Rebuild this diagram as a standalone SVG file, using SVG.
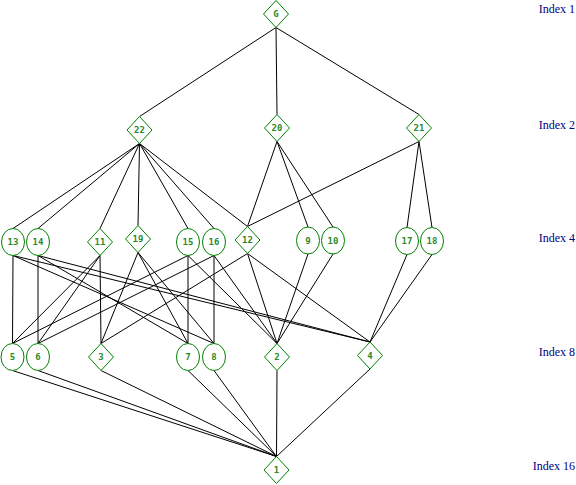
<svg xmlns="http://www.w3.org/2000/svg" width="576" height="485" viewBox="0 0 576 485">
<style>
.n{fill:#fff;stroke:#008000;stroke-width:1}
.t{font-family:"DejaVu Sans Mono",monospace;font-size:9px;font-weight:bold;fill:#2a8a2a;text-anchor:middle}
.e line{stroke:#000;stroke-width:1}
.ix{font-family:"Liberation Serif",serif;font-size:12px;fill:#000080;text-anchor:end}
</style>
<rect width="576" height="485" fill="#fff"/>
<g id="connectors" class="e">
<line x1="276" y1="27.5" x2="139.5" y2="116.5"/>
<line x1="276" y1="27.5" x2="277" y2="114.5"/>
<line x1="276" y1="27.5" x2="419" y2="114.5"/>
<line x1="139.5" y1="143.5" x2="13" y2="228.5"/>
<line x1="139.5" y1="143.5" x2="38" y2="228.5"/>
<line x1="139.5" y1="143.5" x2="100" y2="228.5"/>
<line x1="139.5" y1="143.5" x2="138" y2="225.5"/>
<line x1="139.5" y1="143.5" x2="188" y2="228.5"/>
<line x1="139.5" y1="143.5" x2="214" y2="228.5"/>
<line x1="139.5" y1="143.5" x2="247.5" y2="226.5"/>
<line x1="277" y1="141.5" x2="247.5" y2="226.5"/>
<line x1="277" y1="141.5" x2="308" y2="227"/>
<line x1="277" y1="141.5" x2="333" y2="227"/>
<line x1="419" y1="141.5" x2="247.5" y2="226.5"/>
<line x1="419" y1="141.5" x2="407" y2="227.5"/>
<line x1="419" y1="141.5" x2="432" y2="227.5"/>
<line x1="13" y1="255.5" x2="12.5" y2="343.5"/>
<line x1="13" y1="255.5" x2="214" y2="343.5"/>
<line x1="13" y1="255.5" x2="370" y2="342"/>
<line x1="38" y1="255.5" x2="38" y2="343.5"/>
<line x1="38" y1="255.5" x2="188" y2="343.5"/>
<line x1="38" y1="255.5" x2="370" y2="342"/>
<line x1="100" y1="255.5" x2="101" y2="343.5"/>
<line x1="100" y1="255.5" x2="12.5" y2="343.5"/>
<line x1="100" y1="255.5" x2="38" y2="343.5"/>
<line x1="138" y1="252.5" x2="101" y2="343.5"/>
<line x1="138" y1="252.5" x2="188" y2="343.5"/>
<line x1="138" y1="252.5" x2="214" y2="343.5"/>
<line x1="188" y1="255.5" x2="188" y2="343.5"/>
<line x1="188" y1="255.5" x2="12.5" y2="343.5"/>
<line x1="188" y1="255.5" x2="277" y2="343.5"/>
<line x1="214" y1="255.5" x2="214" y2="343.5"/>
<line x1="214" y1="255.5" x2="38" y2="343.5"/>
<line x1="214" y1="255.5" x2="277" y2="343.5"/>
<line x1="247.5" y1="253.5" x2="277" y2="343.5"/>
<line x1="247.5" y1="253.5" x2="101" y2="343.5"/>
<line x1="247.5" y1="253.5" x2="370" y2="342"/>
<line x1="308" y1="254" x2="277" y2="343.5"/>
<line x1="333" y1="254" x2="277" y2="343.5"/>
<line x1="407" y1="254.5" x2="370" y2="342"/>
<line x1="432" y1="254.5" x2="370" y2="342"/>
<line x1="12.5" y1="370.5" x2="276.5" y2="456.5"/>
<line x1="38" y1="370.5" x2="276.5" y2="456.5"/>
<line x1="101" y1="370.5" x2="276.5" y2="456.5"/>
<line x1="188" y1="370.5" x2="276.5" y2="456.5"/>
<line x1="214" y1="370.5" x2="276.5" y2="456.5"/>
<line x1="277" y1="370.5" x2="276.5" y2="456.5"/>
<line x1="370" y1="369" x2="276.5" y2="456.5"/>
</g>
<g id="node-G"><polygon class="n" points="276,0.5 288.5,14 276,27.5 263.5,14"/><text class="t" x="276" y="17">G</text></g>
<g id="node-22"><polygon class="n" points="139.5,116.5 152,130 139.5,143.5 127,130"/><text class="t" x="139.5" y="133">22</text></g>
<g id="node-20"><polygon class="n" points="277,114.5 289.5,128 277,141.5 264.5,128"/><text class="t" x="277" y="131">20</text></g>
<g id="node-21"><polygon class="n" points="419,114.5 431.5,128 419,141.5 406.5,128"/><text class="t" x="419" y="131">21</text></g>
<g id="node-13"><ellipse class="n" cx="13" cy="242" rx="11.5" ry="13.5"/><text class="t" x="13" y="245">13</text></g>
<g id="node-14"><ellipse class="n" cx="38" cy="242" rx="11.5" ry="13.5"/><text class="t" x="38" y="245">14</text></g>
<g id="node-11"><polygon class="n" points="100,228.5 112.5,242 100,255.5 87.5,242"/><text class="t" x="100" y="245">11</text></g>
<g id="node-19"><polygon class="n" points="138,225.5 150.5,239 138,252.5 125.5,239"/><text class="t" x="138" y="242">19</text></g>
<g id="node-15"><ellipse class="n" cx="188" cy="242" rx="11.5" ry="13.5"/><text class="t" x="188" y="245">15</text></g>
<g id="node-16"><ellipse class="n" cx="214" cy="242" rx="11.5" ry="13.5"/><text class="t" x="214" y="245">16</text></g>
<g id="node-12"><polygon class="n" points="247.5,226.5 260,240 247.5,253.5 235,240"/><text class="t" x="247.5" y="243">12</text></g>
<g id="node-9"><ellipse class="n" cx="308" cy="240.5" rx="11.5" ry="13.5"/><text class="t" x="308" y="243.5">9</text></g>
<g id="node-10"><ellipse class="n" cx="333" cy="240.5" rx="11.5" ry="13.5"/><text class="t" x="333" y="243.5">10</text></g>
<g id="node-17"><ellipse class="n" cx="407" cy="241" rx="11.5" ry="13.5"/><text class="t" x="407" y="244">17</text></g>
<g id="node-18"><ellipse class="n" cx="432" cy="241" rx="11.5" ry="13.5"/><text class="t" x="432" y="244">18</text></g>
<g id="node-5"><ellipse class="n" cx="12.5" cy="357" rx="11.5" ry="13.5"/><text class="t" x="12.5" y="360">5</text></g>
<g id="node-6"><ellipse class="n" cx="38" cy="357" rx="11.5" ry="13.5"/><text class="t" x="38" y="360">6</text></g>
<g id="node-3"><polygon class="n" points="101,343.5 113.5,357 101,370.5 88.5,357"/><text class="t" x="101" y="360">3</text></g>
<g id="node-7"><ellipse class="n" cx="188" cy="357" rx="11.5" ry="13.5"/><text class="t" x="188" y="360">7</text></g>
<g id="node-8"><ellipse class="n" cx="214" cy="357" rx="11.5" ry="13.5"/><text class="t" x="214" y="360">8</text></g>
<g id="node-2"><polygon class="n" points="277,343.5 289.5,357 277,370.5 264.5,357"/><text class="t" x="277" y="360">2</text></g>
<g id="node-4"><polygon class="n" points="370,342 382.5,355.5 370,369 357.5,355.5"/><text class="t" x="370" y="358.5">4</text></g>
<g id="node-1"><polygon class="n" points="276.5,456.5 289,470 276.5,483.5 264,470"/><text class="t" x="276.5" y="473">1</text></g>
<g id="index-labels">
<text class="ix" x="575" y="13">Index 1</text>
<text class="ix" x="575" y="129">Index 2</text>
<text class="ix" x="575" y="242">Index 4</text>
<text class="ix" x="575" y="356">Index 8</text>
<text class="ix" x="575" y="470">Index 16</text>
</g>
</svg>
